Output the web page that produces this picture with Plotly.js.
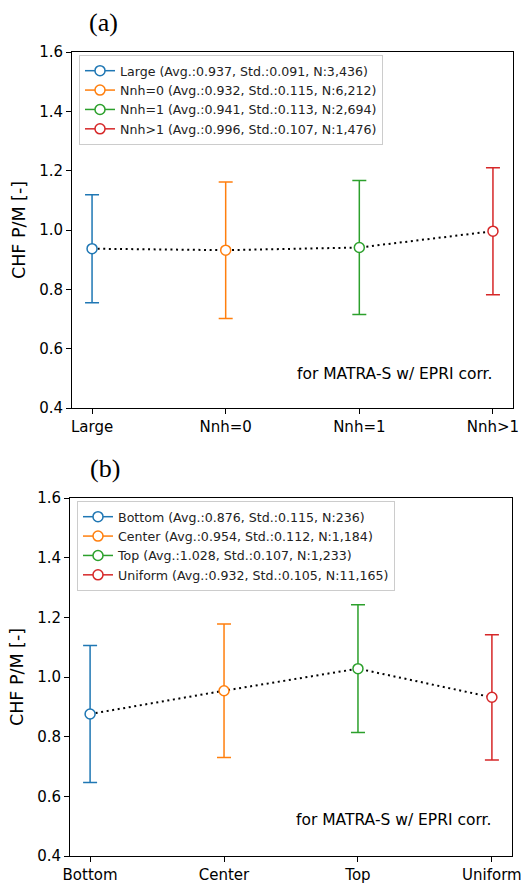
<!DOCTYPE html>
<html>
<head>
<meta charset="utf-8">
<script src="https://cdn.plot.ly/plotly-3.0.1.min.js"></script>
<style>html,body{margin:0;padding:0;background:#fff;}#chart{width:532px;height:883px;}</style>
</head>
<body>
<div id="chart"></div>
<script>
// ---- data ----
const catsA = ['Large', 'Nnh=0', 'Nnh=1', 'Nnh>1'];
const avgA  = [0.937, 0.932, 0.941, 0.996];
const stdA  = [0.091, 0.115, 0.113, 0.107];
const nA    = ['3,436', '6,212', '2,694', '1,476'];

const catsB = ['Bottom', 'Center', 'Top', 'Uniform'];
const avgB  = [0.876, 0.954, 1.028, 0.932];
const stdB  = [0.115, 0.112, 0.107, 0.105];
const nB    = ['236', '1,184', '1,233', '11,165'];

const sigmaMult = 2;   // error bars span +/- 2 std
const colors = ['#1f77b4', '#ff7f0e', '#2ca02c', '#d62728'];
const panelLabels = ['(a)', '(b)'];
const yTitle = 'CHF P/M [-]';
const noteText = 'for MATRA-S w/ EPRI corr.';
const yTicks = [0.4, 0.6, 0.8, 1.0, 1.2, 1.4, 1.6];

// ---- traces ----
function buildPanel(cats, avg, std, n, xa, ya, leg) {
  const tr = [];
  tr.push({
    x: cats, y: avg, xaxis: xa, yaxis: ya, type: 'scatter', mode: 'lines',
    line: {color: '#000', width: 2, dash: '2px,3.6px'},
    showlegend: false, hoverinfo: 'skip'
  });
  cats.forEach((c, i) => {
    tr.push({
      x: [c], y: [avg[i]], xaxis: xa, yaxis: ya, type: 'scatter', mode: 'lines+markers',
      name: c + ' (Avg.:' + avg[i].toFixed(3) + ', Std.:' + std[i].toFixed(3) + ', N:' + n[i] + ')',
      legend: leg,
      line: {color: colors[i], width: 1.5},
      marker: {symbol: 'circle', size: 10, color: '#fff', line: {color: colors[i], width: 1.5}},
      error_y: {type: 'data', array: [sigmaMult * std[i]], visible: true,
                color: colors[i], thickness: 1.5, width: 7}
    });
  });
  return tr;
}
const data = [].concat(
  buildPanel(catsA, avgA, stdA, nA, 'x', 'y', 'legend'),
  buildPanel(catsB, avgB, stdB, nB, 'x2', 'y2', 'legend2')
);

const tickFont = {family: 'DejaVu Sans', size: 15, color: '#000'};
function xAxis(dom, anchor) {
  return {domain: dom, anchor: anchor, type: 'category', range: [-0.15, 3.15],
    showline: true, linecolor: '#000', linewidth: 1, mirror: true,
    ticks: 'outside', ticklen: 5, tickwidth: 1, tickcolor: '#000',
    showgrid: false, zeroline: false, tickfont: tickFont, fixedrange: true};
}
function yAxis(dom, anchor) {
  return {domain: dom, anchor: anchor, range: [0.4, 1.6], tickvals: yTicks,
    ticktext: yTicks.map(v => v.toFixed(1)),
    showline: true, linecolor: '#000', linewidth: 1, mirror: true,
    ticks: 'outside', ticklen: 5, tickwidth: 1, tickcolor: '#000',
    showgrid: false, zeroline: false, tickfont: tickFont,
    title: {text: yTitle, font: {family: 'DejaVu Sans', size: 17.5, color: '#000'}, standoff: 9},
    fixedrange: true};
}
const legendStyle = {
  xref: 'paper', yref: 'paper', xanchor: 'left', yanchor: 'top',
  bgcolor: 'rgba(255,255,255,0.85)', bordercolor: '#cccccc', borderwidth: 1,
  font: {family: 'DejaVu Sans', size: 12.6, color: '#222'}, tracegroupgap: 0,
  itemwidth: 30
};

const layout = {
  width: 532, height: 883,
  margin: {l: 0, r: 0, t: 0, b: 0},
  paper_bgcolor: '#fff', plot_bgcolor: '#fff',
  showlegend: true,
  xaxis: xAxis([72/532, 513/532], 'y'),
  yaxis: yAxis([1 - 408/883, 1 - 52/883], 'x'),
  xaxis2: xAxis([70/532, 512/532], 'y2'),
  yaxis2: yAxis([1 - 856/883, 1 - 498/883], 'x2'),
  legend: Object.assign({x: 79/532, y: 1 - 55/883}, legendStyle),
  legend2: Object.assign({x: 77/532, y: 1 - 501/883}, legendStyle),
  annotations: [
    {text: panelLabels[0], xref: 'paper', yref: 'paper', x: 103/532, y: 1 - 22/883,
     xanchor: 'center', yanchor: 'middle', showarrow: false,
     font: {family: 'Liberation Serif', size: 26, color: '#000'}},
    {text: panelLabels[1], xref: 'paper', yref: 'paper', x: 105/532, y: 1 - 468/883,
     xanchor: 'center', yanchor: 'middle', showarrow: false,
     font: {family: 'Liberation Serif', size: 26, color: '#000'}},
    {text: noteText, xref: 'paper', yref: 'paper', x: 494/532, y: 1 - 374/883,
     xanchor: 'right', yanchor: 'middle', showarrow: false,
     font: {family: 'DejaVu Sans', size: 15.5, color: '#000'}},
    {text: noteText, xref: 'paper', yref: 'paper', x: 493/532, y: 1 - 820/883,
     xanchor: 'right', yanchor: 'middle', showarrow: false,
     font: {family: 'DejaVu Sans', size: 15.5, color: '#000'}}
  ]
};

Plotly.newPlot('chart', data, layout, {displayModeBar: false, staticPlot: true});
</script>
</body>
</html>
